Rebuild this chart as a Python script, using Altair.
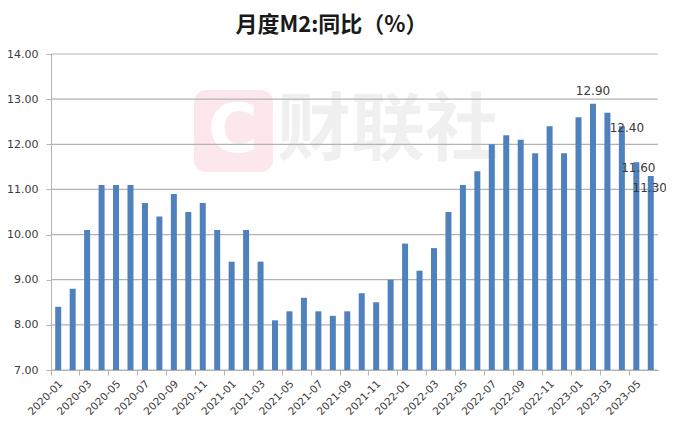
import altair as alt
import pandas as pd

months = [
    "2020-01", "2020-02", "2020-03", "2020-04", "2020-05", "2020-06",
    "2020-07", "2020-08", "2020-09", "2020-10", "2020-11", "2020-12",
    "2021-01", "2021-02", "2021-03", "2021-04", "2021-05", "2021-06",
    "2021-07", "2021-08", "2021-09", "2021-10", "2021-11", "2021-12",
    "2022-01", "2022-02", "2022-03", "2022-04", "2022-05", "2022-06",
    "2022-07", "2022-08", "2022-09", "2022-10", "2022-11", "2022-12",
    "2023-01", "2023-02", "2023-03", "2023-04", "2023-05", "2023-06",
]
m2_yoy = [
    8.4, 8.8, 10.1, 11.1, 11.1, 11.1, 10.7, 10.4, 10.9, 10.5, 10.7, 10.1,
    9.4, 10.1, 9.4, 8.1, 8.3, 8.6, 8.3, 8.2, 8.3, 8.7, 8.5, 9.0,
    9.8, 9.2, 9.7, 10.5, 11.1, 11.4, 12.0, 12.2, 12.1, 11.8, 12.4, 11.8,
    12.6, 12.9, 12.7, 12.4, 11.6, 11.3,
]
y_ticks = [7, 8, 9, 10, 11, 12, 13, 14]
labelled_months = ["2023-02", "2023-04", "2023-05", "2023-06"]
label_text = ["12.90", "12.40", "11.60", "11.30"]

df = pd.DataFrame({"month": months, "value": m2_yoy})
grid_df = pd.DataFrame({"v": y_ticks})

FONT = "DejaVu Sans"
CJK = "Noto Sans CJK SC"
BLUE = "#4F81BD"
GRID = "#B3B3B3"
TXT = "#3A3A3A"

x_enc = alt.X(
    "month:N",
    sort=months,
    scale=alt.Scale(paddingInner=0.0, paddingOuter=0.0),
    axis=alt.Axis(
        title=None,
        values=months[::2],
        bandPosition=0,
        labelAngle=-45,
        labelAlign="right",
        labelBaseline="middle",
        labelOffset=3,
        labelPadding=7,
        labelFont=FONT,
        labelFontSize=10.5,
        labelColor=TXT,
        domainColor=GRID,
        tickColor=GRID,
        tickSize=5,
        grid=False,
    ),
)
y_scale = alt.Scale(domain=[7, 14], nice=False, zero=False)
y_enc = alt.Y(
    "value:Q",
    scale=y_scale,
    axis=alt.Axis(
        title=None,
        values=y_ticks,
        format=".2f",
        labelFont=FONT,
        labelFontSize=11,
        labelColor=TXT,
        labelPadding=8,
        domainColor=GRID,
        tickColor=GRID,
        tickSize=5,
        grid=False,
    ),
)

# watermark
wm_box = alt.Chart(pd.DataFrame({"a": [0]})).mark_rect(
    color="#FCE8EC", cornerRadius=12
).encode(x=alt.value(143), x2=alt.value(222), y=alt.value(36), y2=alt.value(118))
wm_c = alt.Chart(pd.DataFrame({"a": [0]})).mark_text(
    text="C", font=FONT, fontWeight="bold", fontSize=68, color="#FFFFFF",
    align="center", baseline="middle"
).encode(x=alt.value(182), y=alt.value(78))
wm_txt = alt.Chart(pd.DataFrame({"a": [0]})).mark_text(
    text="财联社", font=CJK, fontWeight="bold", fontSize=74, color="#F0F0F0",
    align="left", baseline="middle"
).encode(x=alt.value(226), y=alt.value(78))

grid = alt.Chart(grid_df).mark_rule(color=GRID, strokeWidth=1.2).encode(
    y=alt.Y("v:Q", scale=y_scale)
)

bars = alt.Chart(df).mark_bar(color=BLUE, size=6).encode(
    x=x_enc, y=y_enc, y2=alt.datum(7)
)

offsets = {"2023-02": (0, -13), "2023-04": (5, 2), "2023-05": (2, 6), "2023-06": (-1, 12)}
texts = []
for m, t in zip(labelled_months, label_text):
    dx, dy = offsets[m]
    texts.append(
        alt.Chart(df)
        .transform_filter(alt.datum.month == m)
        .mark_text(text=t, font=FONT, fontSize=12, color=TXT, dx=dx, dy=dy,
                   align="center", baseline="middle")
        .encode(x=alt.X("month:N", sort=months), y=alt.Y("value:Q", scale=y_scale))
    )

chart = alt.layer(wm_box, wm_c, wm_txt, grid, bars, *texts).properties(
    width=607,
    height=316,
    autosize=alt.AutoSizeParams(type="none"),
    padding={"left": 43, "top": 46, "right": 8, "bottom": 49},
    title=alt.TitleParams(
        "月度M2:同比（%）",
        font=CJK,
        fontSize=22,
        fontWeight="bold",
        color="#1A1A1A",
        anchor="middle",
        dx=-23,
        offset=11,
    ),
).configure_view(stroke=None)

chart.save("out.html", embed_options={"renderer": "svg", "actions": False})
